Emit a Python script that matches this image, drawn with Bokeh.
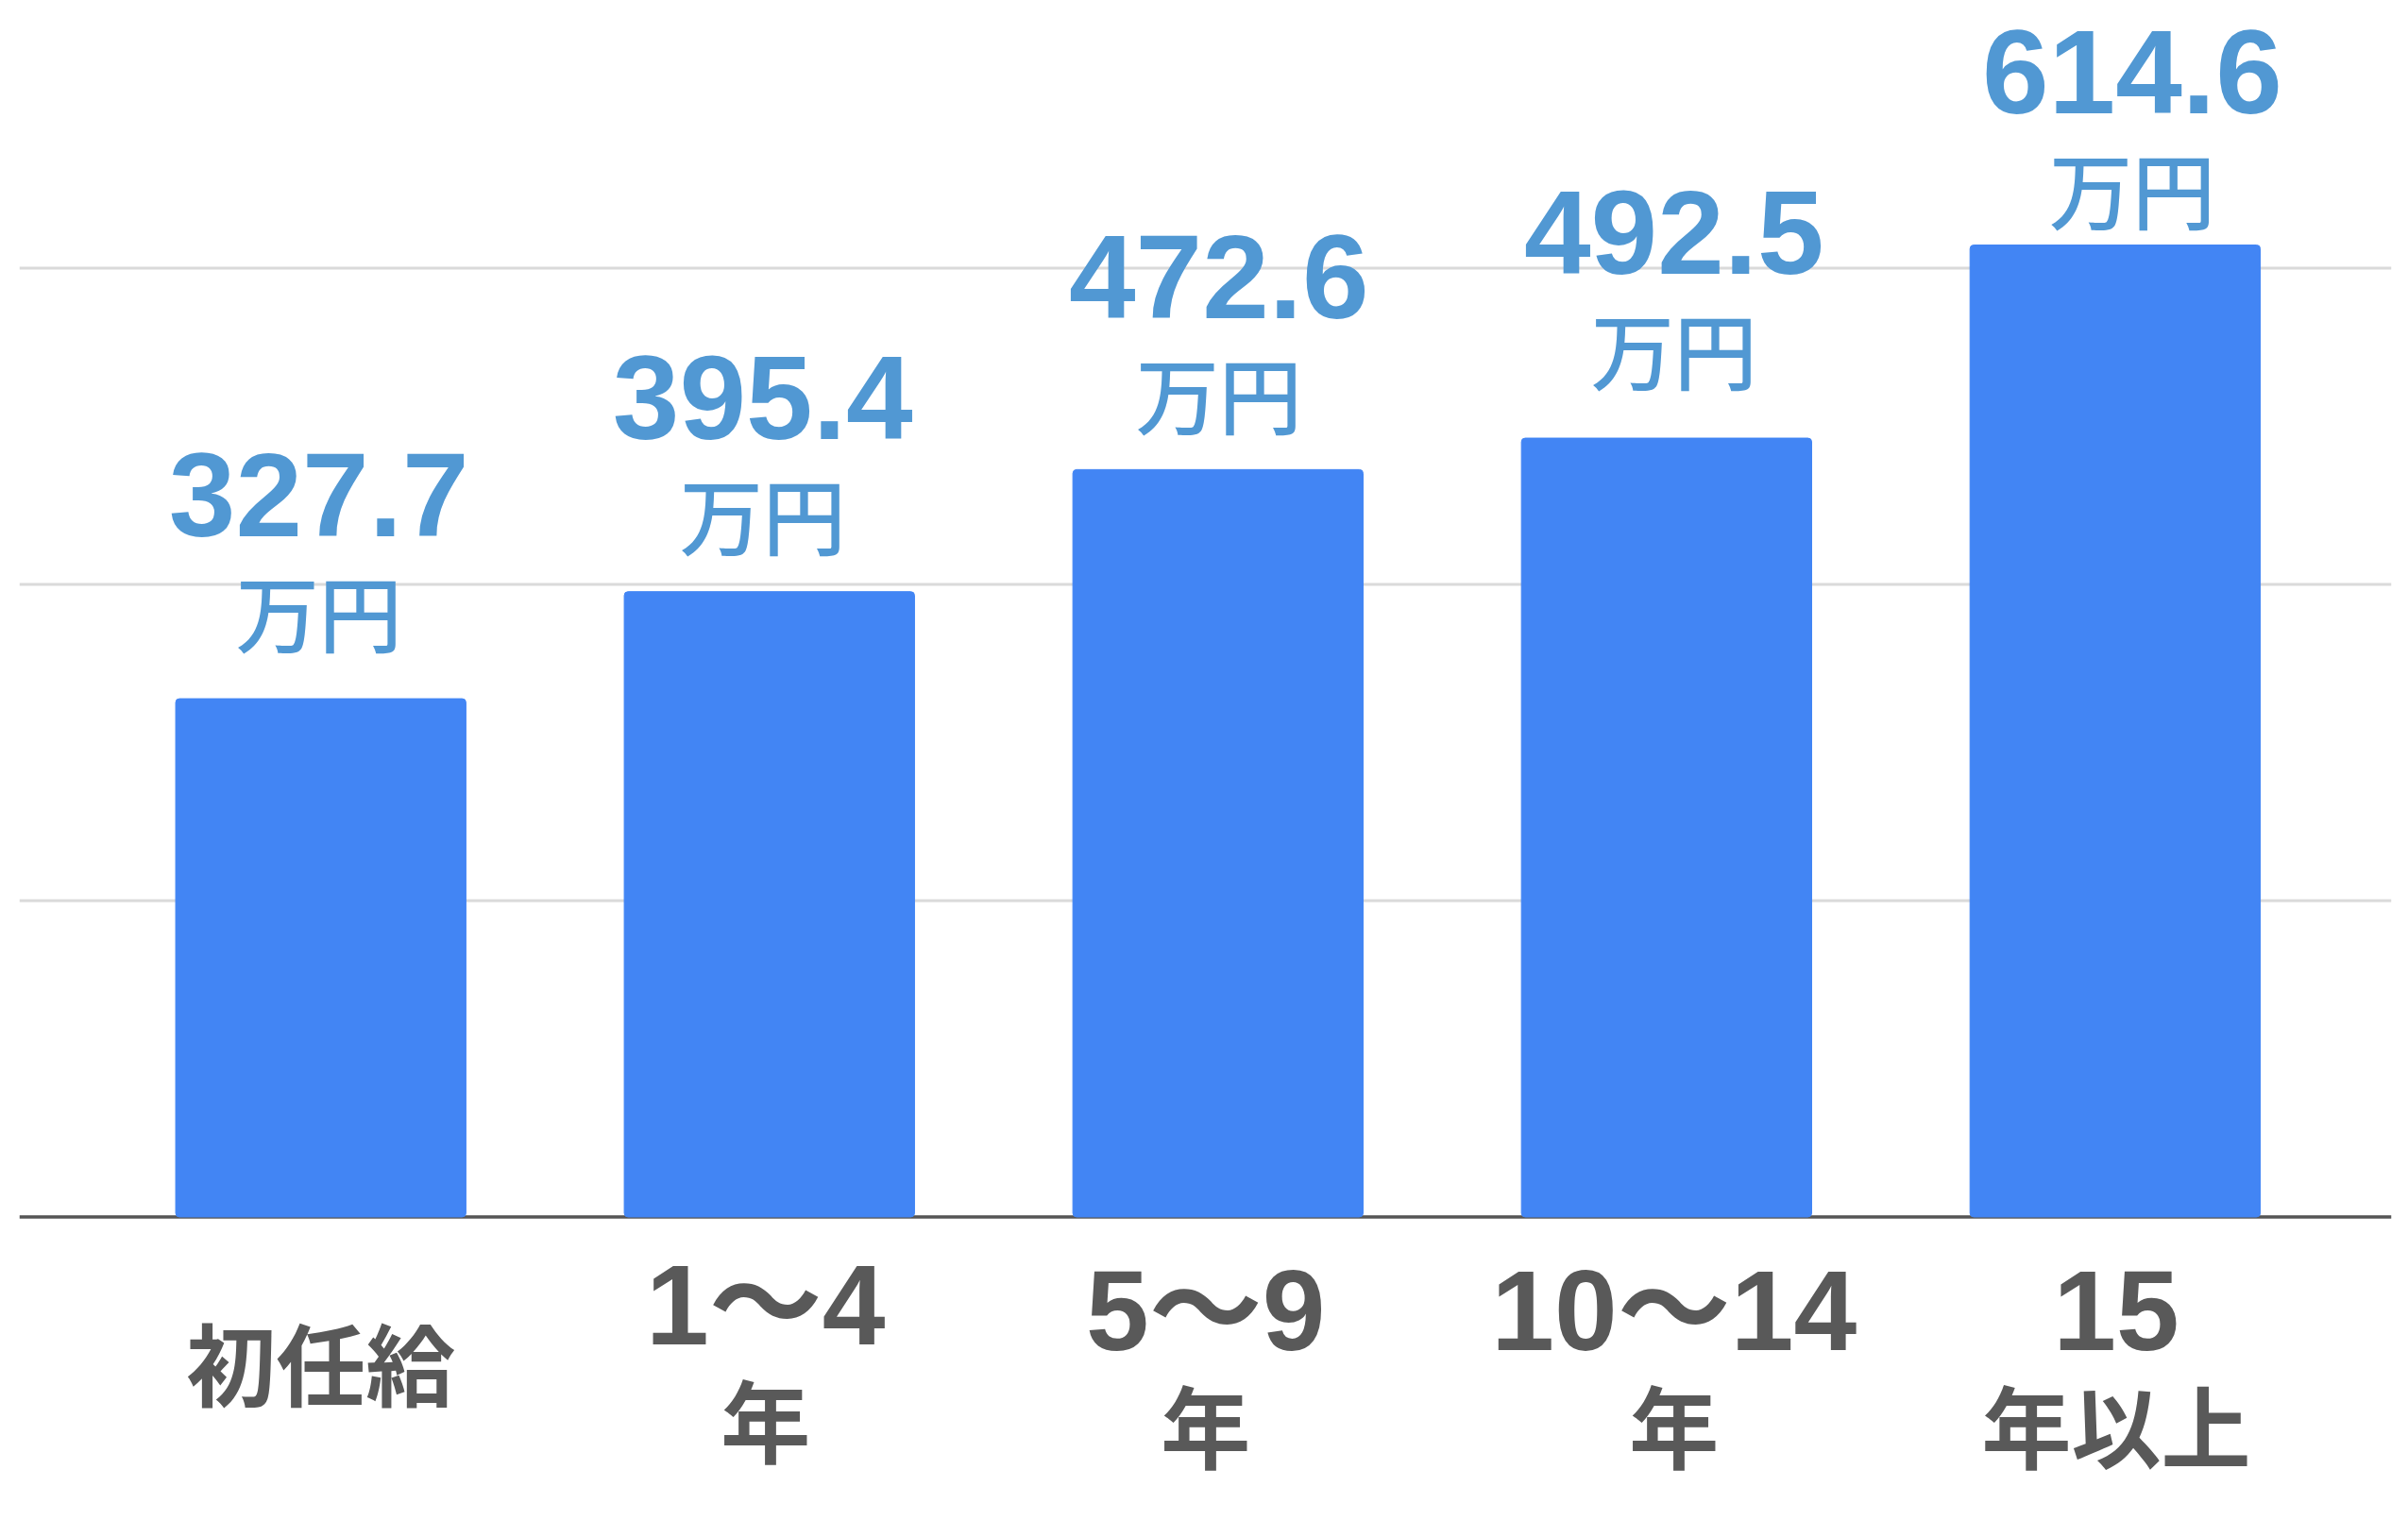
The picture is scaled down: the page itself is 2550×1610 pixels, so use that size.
import re
from bokeh.plotting import figure
from bokeh.models import ColumnDataSource, Range1d, Span
from bokeh.core.properties import value
from bokeh.embed import file_html
from bokeh.resources import INLINE

# ---- data ----
categories = ["初任給", "1～4年", "5～9年", "10～14年", "15年以上"]
salaries = [327.7, 395.4, 472.6, 492.5, 614.6]
unit_label = "万円"
grid_ticks = [200, 400, 600]

# ---- annotation nudges (screen px) ----
label_dx = [-2, -7, 1, 8, 18]
label_gap = [48, 37, 36, 50, 15]
cat_dx = [0, -4, -13, 8, 1]
cat_dy = [0, -6, 0, 0, 0]

BAR_COLOR = "#4285F4"
LABEL_COLOR = "#5198D3"
CAT_COLOR = "#595959"
NUM_FONT = "Liberation Sans"
CJK_FONT = "Noto Sans CJK JP"
CJK_MED = "'Noto Sans CJK JP Medium', 'Noto Sans CJK JP'"
SHIFT = -41  # baseline correction

idx = list(range(len(categories)))

p = figure(width=2534, height=1594,
           x_range=Range1d(-0.672, 4.616), y_range=Range1d(-182.4, 769.25),
           x_axis_location=None, y_axis_location=None,
           output_backend="svg", toolbar_location=None,
           min_border_left=20, min_border_right=2,
           min_border_top=0, min_border_bottom=0)
p.outline_line_color = None
p.grid.visible = False
p.background_fill_color = "white"
p.border_fill_color = "white"

for t in grid_ticks:
    p.add_layout(Span(location=t, dimension="width", line_color="#dadada",
                      line_width=3, level="underlay"))
p.add_layout(Span(location=0, dimension="width", line_color="#555555",
                  line_width=3.5, level="underlay"))

bar_src = ColumnDataSource(dict(
    x=idx, top=salaries,
    label=[f"{v:.1f}" for v in salaries],
    unit=[unit_label] * len(salaries),
    dx=label_dx,
    dy_num=[-(g + 127) + SHIFT for g in label_gap],
    dy_unit=[-(g + 6) + SHIFT for g in label_gap],
))

p.vbar(x="x", top="top", bottom=0, width=0.647, source=bar_src,
       fill_color=BAR_COLOR, line_color=BAR_COLOR, line_width=1,
       border_radius=4)

p.text(x="x", y="top", text="label", x_offset="dx", y_offset="dy_num",
       source=bar_src, text_font=value(NUM_FONT), text_font_style="bold",
       text_font_size="127px", text_color=LABEL_COLOR,
       text_align="center", text_baseline="alphabetic")
p.text(x="x", y="top", text="unit", x_offset="dx", y_offset="dy_unit",
       source=bar_src, text_font=value(CJK_MED), text_font_style="normal",
       text_font_size="88px", text_color=LABEL_COLOR,
       text_align="center", text_baseline="alphabetic")

# ---- category labels ----
top_d = dict(x=[], t=[], dx=[], dy=[])
bot_d = dict(x=[], t=[], dx=[], dy=[])
one_d = dict(x=[], t=[], dx=[], dy=[])
for i, c in enumerate(categories):
    m = re.match(r"^([0-9～]+)(.*)$", c)
    if m:
        for d, txt, base in ((top_d, m.group(1), 140), (bot_d, m.group(2), 260)):
            d["x"].append(i); d["t"].append(txt)
            d["dx"].append(cat_dx[i]); d["dy"].append(base + SHIFT + cat_dy[i])
    else:
        one_d["x"].append(i); one_d["t"].append(c)
        one_d["dx"].append(cat_dx[i]); one_d["dy"].append(194 + SHIFT + cat_dy[i])

for d in (top_d, bot_d, one_d):
    d["y"] = [0] * len(d["x"])

p.text(x="x", y="y", text="t", x_offset="dx", y_offset="dy",
       source=ColumnDataSource(top_d), text_font=value(f"{NUM_FONT}, {CJK_FONT}"),
       text_font_style="bold", text_font_size="120px", text_color=CAT_COLOR,
       text_align="center", text_baseline="alphabetic")
p.text(x="x", y="y", text="t", x_offset="dx", y_offset="dy",
       source=ColumnDataSource(bot_d), text_font=value(CJK_FONT),
       text_font_style="bold", text_font_size="95px", text_color=CAT_COLOR,
       text_align="center", text_baseline="alphabetic")
p.text(x="x", y="y", text="t", x_offset="dx", y_offset="dy",
       source=ColumnDataSource(one_d), text_font=value(CJK_FONT),
       text_font_style="bold", text_font_size="95px", text_color=CAT_COLOR,
       text_align="center", text_baseline="alphabetic")

open("out.html", "w").write(file_html(p, INLINE))
